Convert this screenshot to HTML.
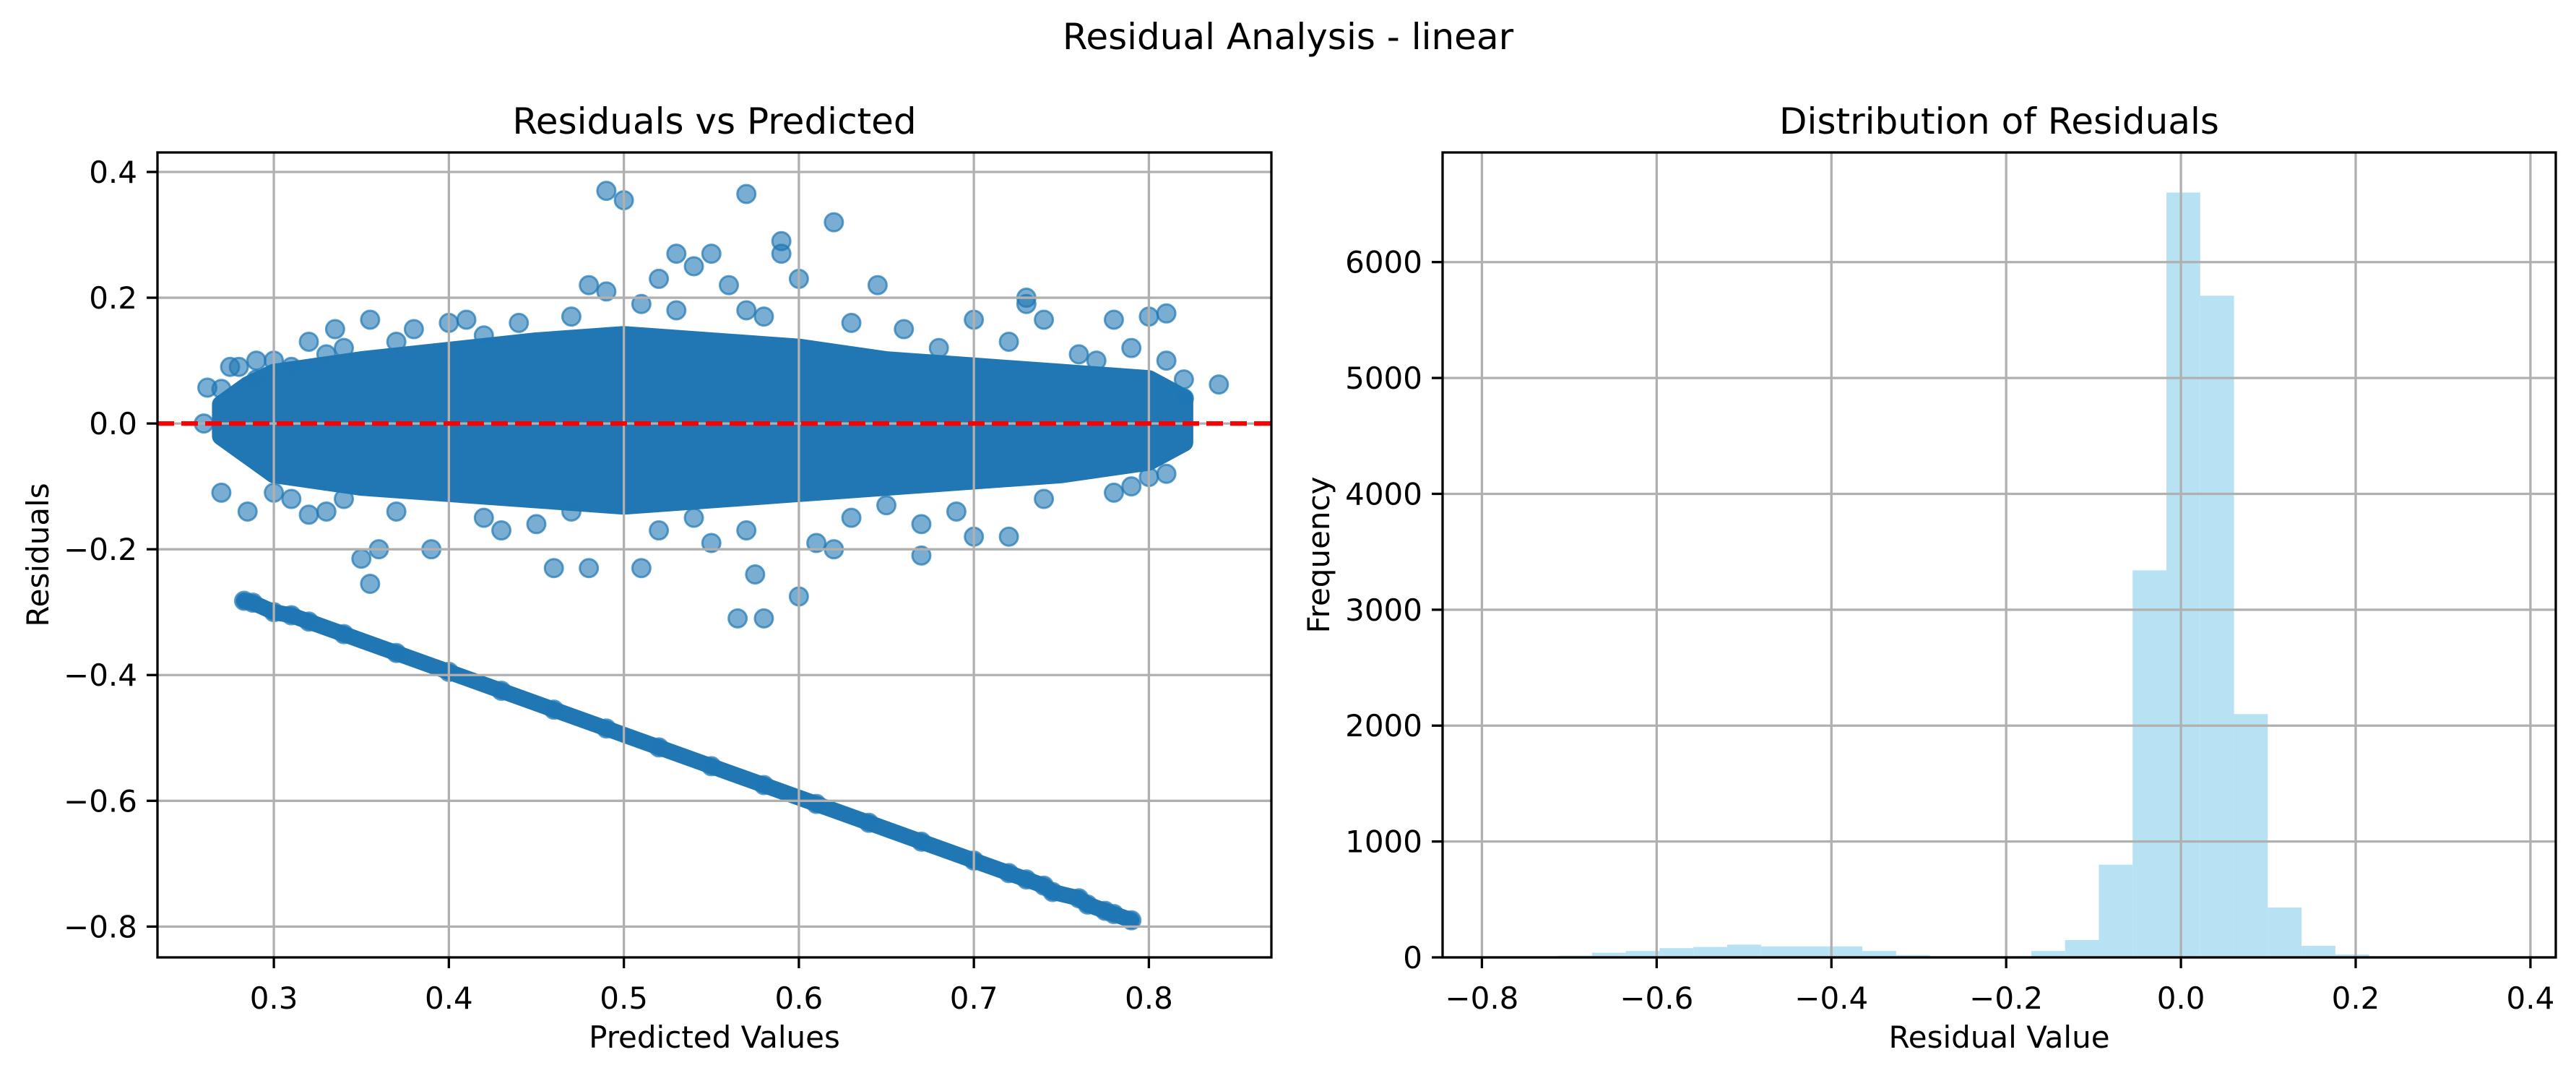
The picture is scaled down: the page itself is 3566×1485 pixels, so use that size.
<!DOCTYPE html>
<html><head><meta charset="utf-8"><style>
html,body{margin:0;padding:0;background:#fff;}
svg{display:block;font-family:"DejaVu Sans","Liberation Sans",sans-serif;}
</style></head><body>
<svg id="fig" width="3566" height="1485" viewBox="0 0 3566 1485" xmlns="http://www.w3.org/2000/svg">
<rect width="3566" height="1485" fill="#fff"/>
<text x="1783" y="68" text-anchor="middle" font-size="50">Residual Analysis - linear</text>
<g id="left"></g>
<g id="right"></g>
</svg>
<script>
// ---- scatter data ----
const coreX = [0.27,0.285,0.30,0.35,0.40,0.45,0.50,0.55,0.60,0.65,0.70,0.75,0.80,0.82];
const coreUpper = [0.03,0.06,0.08,0.10,0.115,0.13,0.14,0.13,0.12,0.10,0.09,0.08,0.07,0.04];
const coreLower = [-0.02,-0.05,-0.08,-0.10,-0.11,-0.12,-0.13,-0.12,-0.11,-0.10,-0.09,-0.08,-0.06,-0.03];
const outX = [0.49,0.50,0.57,0.62,0.59,0.59,0.53,0.54,0.55,0.52,0.56,0.645,0.73,0.73,0.81,0.80,0.78,0.74,0.70,0.41,0.355,0.40,0.36,0.35,0.355,0.39,0.46,0.48,0.51,0.565,0.58,0.575,0.60,0.62,0.67,0.72,0.79,0.80,0.26,0.262,0.27,0.275,0.27,0.285,0.31,0.32,0.84,0.82,0.43,0.55,0.61,0.67,0.70,0.335,0.29,0.48,0.60];
const outY = [0.37,0.355,0.365,0.32,0.29,0.27,0.27,0.25,0.27,0.23,0.22,0.22,0.20,0.19,0.175,0.17,0.165,0.165,0.165,0.165,0.165,0.16,-0.20,-0.215,-0.255,-0.20,-0.23,-0.23,-0.23,-0.31,-0.31,-0.24,-0.275,-0.20,-0.21,-0.18,-0.10,-0.085,0.0,0.057,0.055,0.09,-0.11,-0.14,-0.12,-0.145,0.062,0.04,-0.17,-0.19,-0.19,-0.16,-0.18,0.15,0.10,0.22,0.23];
const edgeX = [0.28,0.29,0.30,0.31,0.32,0.33,0.34,0.37,0.38,0.42,0.44,0.47,0.49,0.51,0.53,0.57,0.58,0.63,0.66,0.68,0.72,0.76,0.77,0.79,0.81,0.82,0.30,0.33,0.34,0.37,0.42,0.45,0.47,0.52,0.54,0.57,0.63,0.65,0.69,0.74,0.78,0.81];
const edgeY = [0.09,0.07,0.10,0.09,0.13,0.11,0.12,0.13,0.15,0.14,0.16,0.17,0.21,0.19,0.18,0.18,0.17,0.16,0.15,0.12,0.13,0.11,0.10,0.12,0.10,0.07,-0.11,-0.14,-0.12,-0.14,-0.15,-0.16,-0.14,-0.17,-0.15,-0.17,-0.15,-0.13,-0.14,-0.12,-0.11,-0.08];
const diagX = [0.283,0.288,0.30,0.31,0.32,0.34,0.37,0.40,0.43,0.46,0.49,0.52,0.55,0.58,0.61,0.64,0.67,0.70,0.72,0.73,0.74,0.745,0.76,0.765,0.775,0.78,0.79];
const diagY = [-0.282,-0.285,-0.30,-0.305,-0.315,-0.335,-0.365,-0.395,-0.425,-0.455,-0.485,-0.515,-0.545,-0.575,-0.605,-0.635,-0.665,-0.695,-0.715,-0.725,-0.735,-0.745,-0.755,-0.765,-0.775,-0.78,-0.79];
const lxTicks = [0.3,0.4,0.5,0.6,0.7,0.8];
const lyTicks = [0.4,0.2,0.0,-0.2,-0.4,-0.6,-0.8];
// ---- histogram data ----
const binStart = -0.79;
const binWidth = 0.03867;
const binCounts = [0,5,15,40,55,80,90,110,95,95,95,55,20,3,2,2,55,150,800,3340,6600,5710,2100,430,100,25,5,2,1,2];
const rxTicks = [-0.8,-0.6,-0.4,-0.2,0.0,0.2,0.4];
const ryTicks = [0,1000,2000,3000,4000,5000,6000];

const NS="http://www.w3.org/2000/svg";
function mk(tag, attrs, parent){const e=document.createElementNS(NS,tag);for(const k in attrs)e.setAttribute(k,attrs[k]);parent.appendChild(e);return e;}

const L={x0:218,x1:1760,y0:211,y1:1325,xmin:0.2335,xmax:0.870,ymin:-0.849,ymax:0.431};
const lx=v=>L.x0+(v-L.xmin)/(L.xmax-L.xmin)*(L.x1-L.x0);
const ly=v=>L.y1-(v-L.ymin)/(L.ymax-L.ymin)*(L.y1-L.y0);
const R={x0:1997,x1:3538,y0:211,y1:1325,xmin:-0.845,xmax:0.429,ymin:0,ymax:6946};
const rx=v=>R.x0+(v-R.xmin)/(R.xmax-R.xmin)*(R.x1-R.x0);
const ry=v=>R.y1-(v-R.ymin)/(R.ymax-R.ymin)*(R.y1-R.y0);

const gl=document.getElementById('left'), gr=document.getElementById('right');
const C='#1f77b4';

let pts=[];
for(let i=0;i<coreX.length;i++)pts.push(lx(coreX[i])+','+ly(coreUpper[i]));
for(let i=coreX.length-1;i>=0;i--)pts.push(lx(coreX[i])+','+ly(coreLower[i]));
const core=mk('polygon',{points:pts.join(' '),fill:'#2077b4',stroke:'#2077b4','stroke-width':26,'stroke-linejoin':'round'},gl);


const dl=mk('polyline',{points:diagX.map((x,i)=>lx(x)+','+ly(diagY[i])).join(' '),fill:'none',stroke:'#2077b4','stroke-width':22,'stroke-linecap':'round'},gl);


function pt(x,y){
  const c=mk('circle',{cx:lx(x),cy:ly(y),r:12.5,fill:C,'fill-opacity':0.6,stroke:C,'stroke-opacity':0.7,'stroke-width':3},gl);
  
  
}
diagX.forEach((x,i)=>pt(x,diagY[i]));
edgeX.forEach((x,i)=>pt(x,edgeY[i]));
outX.forEach((x,i)=>pt(x,outY[i]));
lxTicks.forEach(t=>{
  const g=mk('line',{x1:lx(t),x2:lx(t),y1:L.y0,y2:L.y1,stroke:'#b0b0b0','stroke-width':3.3},gl);
  
  
  mk('line',{x1:lx(t),x2:lx(t),y1:L.y1,y2:L.y1+15,stroke:'#000','stroke-width':3.3},gl);
  const tx=mk('text',{x:lx(t),y:L.y1+71,'text-anchor':'middle','font-size':42},gl);
  tx.textContent=t.toFixed(1);
  
  
});
lyTicks.forEach(t=>{
  const g=mk('line',{x1:L.x0,x2:L.x1,y1:ly(t),y2:ly(t),stroke:'#b0b0b0','stroke-width':3.3},gl);
  
  
  mk('line',{x1:L.x0-15,x2:L.x0,y1:ly(t),y2:ly(t),stroke:'#000','stroke-width':3.3},gl);
  const tx=mk('text',{x:L.x0-28,y:ly(t)+15,'text-anchor':'end','font-size':42},gl);
  tx.textContent=(t<0?'\u2212':'')+Math.abs(t).toFixed(1);
  
  
});
const zl=mk('line',{x1:L.x0,x2:L.x1,y1:ly(0),y2:ly(0),stroke:'#ff0000','stroke-width':6.25,'stroke-dasharray':'23 10'},gl);


mk('rect',{x:L.x0,y:L.y0,width:L.x1-L.x0,height:L.y1-L.y0,fill:'none',stroke:'#000','stroke-width':3.3},gl);
let t1=mk('text',{x:(L.x0+L.x1)/2,y:185,'text-anchor':'middle','font-size':50},gl);t1.textContent='Residuals vs Predicted';


let xl1=mk('text',{x:(L.x0+L.x1)/2,y:1450,'text-anchor':'middle','font-size':42},gl);xl1.textContent='Predicted Values';


let yl1=mk('text',{x:0,y:0,'text-anchor':'middle','font-size':42,transform:'translate(67,'+(L.y0+L.y1)/2+') rotate(-90)'},gl);yl1.textContent='Residuals';



binCounts.forEach((c,i)=>{
  const a=binStart+i*binWidth,b=a+binWidth;
  const r=mk('rect',{x:rx(a),y:ry(c),width:rx(b)-rx(a),height:ry(0)-ry(c),fill:'#b7e2f3'},gr);
  
  
});
rxTicks.forEach(t=>{
  const g=mk('line',{x1:rx(t),x2:rx(t),y1:R.y0,y2:R.y1,stroke:'#b0b0b0','stroke-width':3.3},gr);
  
  
  mk('line',{x1:rx(t),x2:rx(t),y1:R.y1,y2:R.y1+15,stroke:'#000','stroke-width':3.3},gr);
  const tx=mk('text',{x:rx(t),y:R.y1+71,'text-anchor':'middle','font-size':42},gr);
  tx.textContent=(t<0?'\u2212':'')+Math.abs(t).toFixed(1);
  
  
});
ryTicks.forEach(t=>{
  const g=mk('line',{x1:R.x0,x2:R.x1,y1:ry(t),y2:ry(t),stroke:'#b0b0b0','stroke-width':3.3},gr);
  
  
  mk('line',{x1:R.x0-15,x2:R.x0,y1:ry(t),y2:ry(t),stroke:'#000','stroke-width':3.3},gr);
  const tx=mk('text',{x:R.x0-28,y:ry(t)+15,'text-anchor':'end','font-size':42},gr);
  tx.textContent=String(t);
  
  
});
mk('rect',{x:R.x0,y:R.y0,width:R.x1-R.x0,height:R.y1-R.y0,fill:'none',stroke:'#000','stroke-width':3.3},gr);
let t2=mk('text',{x:(R.x0+R.x1)/2,y:185,'text-anchor':'middle','font-size':50},gr);t2.textContent='Distribution of Residuals';


let xl2=mk('text',{x:(R.x0+R.x1)/2,y:1450,'text-anchor':'middle','font-size':42},gr);xl2.textContent='Residual Value';


let yl2=mk('text',{x:0,y:0,'text-anchor':'middle','font-size':42,transform:'translate(1840,'+(R.y0+R.y1)/2+') rotate(-90)'},gr);yl2.textContent='Frequency';


</script>
</body></html>
